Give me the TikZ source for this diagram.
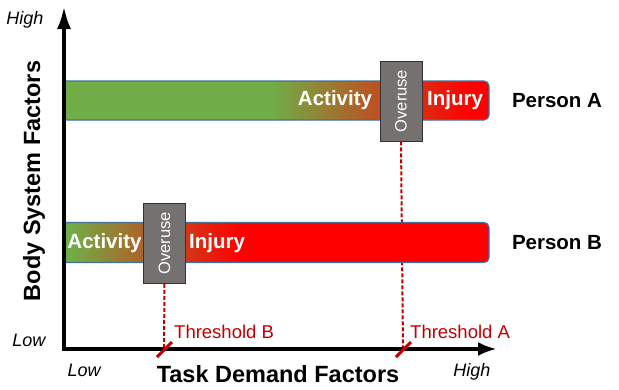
\documentclass[tikz,border=0pt]{standalone}
\usepackage{fontspec}
\setmainfont{Liberation Sans}
\usetikzlibrary{arrows.meta}
\usetikzlibrary{calc}

\definecolor{barGreen}{HTML}{70AD47}
\definecolor{barRed}{HTML}{FF0000}
\definecolor{barEdge}{HTML}{41719C}
\definecolor{boxGray}{HTML}{767171}
\definecolor{threshRed}{HTML}{C00000}

% green -> red fades of the two bars
\pgfdeclarehorizontalshading{personAfade}{100bp}{color(0bp)=(barGreen); color(49.5bp)=(barGreen); color(72.8bp)=(barRed); color(100bp)=(barRed)}
\pgfdeclarehorizontalshading{personBfade}{100bp}{color(0bp)=(barGreen); color(25.8bp)=(barGreen); color(45.8bp)=(barRed); color(100bp)=(barRed)}

\tikzset{
    axisline/.style={line width=4pt, line join=miter},
    axistitle/.style={font=\fontsize{23.5}{26}\selectfont\bfseries},
    axisend/.style={font=\fontsize{18}{20}\selectfont\itshape},
    barlabel/.style={text=white, font=\fontsize{20.5}{24}\selectfont\bfseries},
    personlabel/.style={font=\fontsize{20.5}{24}\selectfont\bfseries},
    overbox/.style={draw=black!80, line width=0.8pt, fill=boxGray, text=white,
        rotate=90, minimum width=80pt, minimum height=42pt, inner sep=0pt,
        font=\fontsize{16.5}{18}\selectfont},
    threshline/.style={threshRed, line width=2pt, dash pattern=on 4pt off 2pt},
    threshtick/.style={threshRed, line width=3pt},
    threshlabel/.style={text=threshRed, anchor=west, inner sep=0pt,
        font=\fontsize{18.5}{20}\selectfont},
}

\begin{document}
\begin{tikzpicture}[x=1pt, y=-1pt]

    \useasboundingbox (0,0) rectangle (619,389);

    % points where the thresholds cross the task axis
    \coordinate (origin) at (64,349);
    \coordinate (tickB) at (164,349);
    \coordinate (tickA) at (403,349);

    % Overuse boxes
    \node[overbox] (overA) at (401,101) {Overuse};
    \node[overbox] (overB) at (164.5,243.5) {Overuse};

    % Dashed threshold lines
    \draw[threshline] (overA.west) -- (tickA);
    \draw[threshline] (overB.west) -- (tickB);

    % Person A bar
    \shadedraw[shading=personAfade, draw=barEdge, line width=1.2pt]
        (63,81) [rounded corners=5pt]-- (489,81) -- (489,120) [sharp corners]-- (63,120) -- cycle;
    % Person B bar
    \shadedraw[shading=personBfade, draw=barEdge, line width=1.2pt]
        (63,222.5) [rounded corners=5pt]-- (489,222.5) -- (489,262.5) [sharp corners]-- (63,262.5) -- cycle;

    % boxes again on top of the bars
    \node[overbox] at (overA) {Overuse};
    \node[overbox] at (overB) {Overuse};

    \node[barlabel] (actA) at (335,100.5) {Activity};
    \node[barlabel] (injA) at (455,100.5) {Injury};
    \node[barlabel] (actB) at (104.5,243) {Activity};
    \node[barlabel] (injB) at (217,243) {Injury};

    \node[personlabel] (personA) at (557,101) {Person A};
    \node[personlabel] (personB) at (557,243) {Person B};

    % Axes
    \draw[axisline, {Latex[length=23pt, width=14pt]}-{Latex[length=19pt, width=14pt]}]
        (64,6) -- (origin) -- (497,349);

    \node[axistitle, rotate=90] (ytitle) at (34,181) {Body System Factors};
    \node[axistitle] (xtitle) at (278,374) {Task Demand Factors};

    \node[axisend, anchor=east] (yhigh) at (47,20) {High};
    \node[axisend, anchor=east] (ylow) at (49,340) {Low};
    \node[axisend, anchor=west] (xlow) at (64,370) {Low};
    \node[axisend, anchor=east] (xhigh) at (494,372) {High};

    % Threshold ticks
    \draw[threshtick] ($(tickA)+(-7,8)$) -- ($(tickA)+(8,-7)$);
    \draw[threshtick] ($(tickB)+(-7,8)$) -- ($(tickB)+(8,-7)$);

    \node[threshlabel] (labB) at (174,332) {Threshold B};
    \node[threshlabel] (labA) at (410,332) {Threshold A};

\end{tikzpicture}
\end{document}
